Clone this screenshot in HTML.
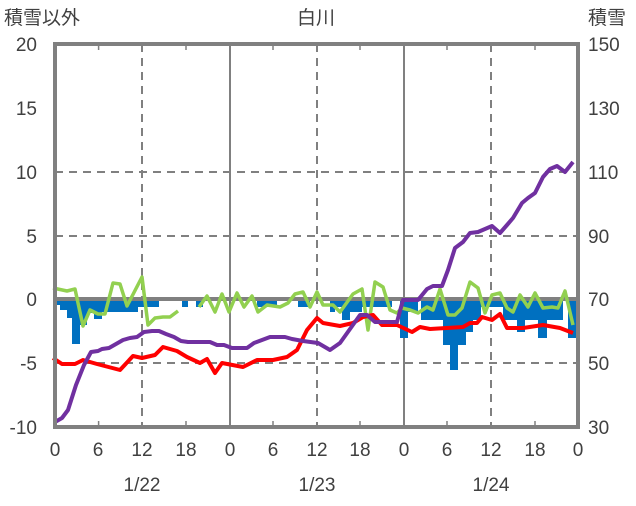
<!DOCTYPE html>
<html><head><meta charset="utf-8"><style>
html,body{margin:0;padding:0;background:#fff;}
svg text{font-family:"Liberation Sans","Noto Sans CJK JP",sans-serif;fill:#404040;font-size:19px;}
</style></head><body>
<svg width="636" height="501" viewBox="0 0 636 501" xmlns="http://www.w3.org/2000/svg">
<rect width="636" height="501" fill="#fff"/>
<g stroke="#808080" stroke-width="2" stroke-dasharray="8,6" fill="none">
<line x1="55" y1="172" x2="578" y2="172"/>
<line x1="55" y1="236" x2="578" y2="236"/>
<line x1="55" y1="363" x2="578" y2="363"/>
<line x1="142" y1="44" x2="142" y2="427"/>
<line x1="317" y1="44" x2="317" y2="427"/>
<line x1="491" y1="44" x2="491" y2="427"/>
</g>
<g stroke="#808080" stroke-width="2">
<line x1="230" y1="44" x2="230" y2="427"/>
<line x1="404" y1="44" x2="404" y2="427"/>
</g>
<g fill="#0070C0">
<rect x="55" y="299" width="5" height="6"/>
<rect x="60" y="299" width="7" height="11"/>
<rect x="67" y="299" width="8" height="19"/>
<rect x="72" y="299" width="8" height="45"/>
<rect x="80" y="299" width="7" height="26"/>
<rect x="87" y="299" width="7" height="14"/>
<rect x="94" y="299" width="8" height="20"/>
<rect x="102" y="299" width="28" height="13"/>
<rect x="130" y="299" width="8" height="13"/>
<rect x="138" y="299" width="21" height="8"/>
<rect x="182" y="299" width="6" height="8"/>
<rect x="196" y="299" width="7" height="8"/>
<rect x="257" y="299" width="20" height="8"/>
<rect x="298" y="299" width="12" height="8"/>
<rect x="333" y="299" width="7" height="8"/>
<rect x="330" y="299" width="5" height="13"/>
<rect x="335" y="299" width="7" height="8"/>
<rect x="342" y="299" width="8" height="21"/>
<rect x="350" y="299" width="12" height="13"/>
<rect x="362" y="299" width="8" height="8"/>
<rect x="370" y="299" width="22" height="8"/>
<rect x="400" y="299" width="8" height="39"/>
<rect x="408" y="299" width="10" height="13"/>
<rect x="421" y="299" width="22" height="21"/>
<rect x="443" y="299" width="7" height="46"/>
<rect x="450" y="299" width="8" height="71"/>
<rect x="458" y="299" width="8" height="46"/>
<rect x="466" y="299" width="7" height="33"/>
<rect x="473" y="299" width="8" height="21"/>
<rect x="481" y="299" width="22" height="8"/>
<rect x="503" y="299" width="14" height="21"/>
<rect x="517" y="299" width="8" height="33"/>
<rect x="525" y="299" width="13" height="21"/>
<rect x="538" y="299" width="9" height="39"/>
<rect x="547" y="299" width="16" height="21"/>
<rect x="568" y="299" width="8" height="39"/>
</g>
<line x1="55" y1="299" x2="578" y2="299" stroke="#808080" stroke-width="4"/>
<g fill="none" stroke-width="3.5" stroke-linejoin="round">
<polyline stroke="#92D050" points="53,288 67,291 75,289 83,326 90,310 98,314 105,314 113,283 120,284 127,306 142,277 148,325 155,318 163,317 170,317 178,311"/>
<polyline stroke="#92D050" points="199,307 207,296 215,312 222,294 229,312 237,293 244,307 252,296 258,312 267,305 280,307 288,303 295,294 303,292 310,307 317,292 323,305 333,305 340,312 353,294 362,289 368,330 375,282 383,287 390,310 397,313 402,308 410,310 418,313 427,307 433,310 440,289 448,315 455,315 462,308 470,282 478,288 485,313 492,295 500,293 507,308 513,312 520,295 528,307 535,293 543,308 552,307 558,308 565,291 573,325"/>
<polyline stroke="#FF0000" stroke-width="4" points="53,358 62,364 75,364 83,360 97,364 120,370 133,356 142,358 155,355 163,347 177,351 187,357 200,363 207,359 215,373 222,363 243,367 257,360 273,360 287,357 297,350 307,330 317,318 323,323 340,326 353,323 363,317 373,315 382,325 397,325 412,332 420,327 430,329 463,327 470,323 477,323 482,317 492,320 500,314 507,328 523,328 543,325 560,328 573,333"/>
<polyline stroke="#7030A0" stroke-width="4" points="55,422 62,418 68,410 76,385 84,365 91,352 98,351 102,349 109,348 116,344 123,340 130,338 137,337 144,332 152,331 159,331 166,334 174,337 181,341 188,342 210,342 217,345 224,345 232,348 247,348 254,343 262,340 270,337 285,337 292,339 303,341 318,343 330,350 340,343 360,315 367,315 375,322 397,322 403,300 418,300 427,289 433,286 442,286 448,270 455,248 463,242 470,233 478,232 492,226 500,233 507,225 513,218 522,203 528,198 535,193 543,177 550,169 557,166 565,172 573,162"/>
</g>
<rect x="55" y="44" width="523" height="383" fill="none" stroke="#808080" stroke-width="4"/>
<g stroke="#808080" stroke-width="1.5">
<line x1="98.6" y1="44" x2="98.6" y2="50"/><line x1="186" y1="44" x2="186" y2="50"/><line x1="273" y1="44" x2="273" y2="50"/><line x1="360" y1="44" x2="360" y2="50"/><line x1="447" y1="44" x2="447" y2="50"/><line x1="535" y1="44" x2="535" y2="50"/>
<line x1="98.6" y1="421" x2="98.6" y2="427"/><line x1="186" y1="421" x2="186" y2="427"/><line x1="273" y1="421" x2="273" y2="427"/><line x1="360" y1="421" x2="360" y2="427"/><line x1="447" y1="421" x2="447" y2="427"/><line x1="535" y1="421" x2="535" y2="427"/>
</g>
<text x="4" y="24">積雪以外</text>
<text x="316" y="24" text-anchor="middle">白川</text>
<text x="588" y="24">積雪</text>
<g text-anchor="end">
<text x="37" y="51">20</text><text x="37" y="115">15</text><text x="37" y="179">10</text><text x="37" y="243">5</text><text x="37" y="306">0</text><text x="37" y="370">-5</text><text x="37" y="434">-10</text>
</g>
<g>
<text x="588" y="51">150</text><text x="588" y="115">130</text><text x="588" y="179">110</text><text x="588" y="243">90</text><text x="588" y="306">70</text><text x="588" y="370">50</text><text x="588" y="434">30</text>
</g>
<g text-anchor="middle">
<text x="55" y="456">0</text><text x="98" y="456">6</text><text x="142" y="456">12</text><text x="186" y="456">18</text>
<text x="230" y="456">0</text><text x="273" y="456">6</text><text x="317" y="456">12</text><text x="360" y="456">18</text>
<text x="404" y="456">0</text><text x="447" y="456">6</text><text x="491" y="456">12</text><text x="535" y="456">18</text><text x="578" y="456">0</text>
<text x="142" y="491">1/22</text><text x="317" y="491">1/23</text><text x="491" y="491">1/24</text>
</g>
</svg>
</body></html>
